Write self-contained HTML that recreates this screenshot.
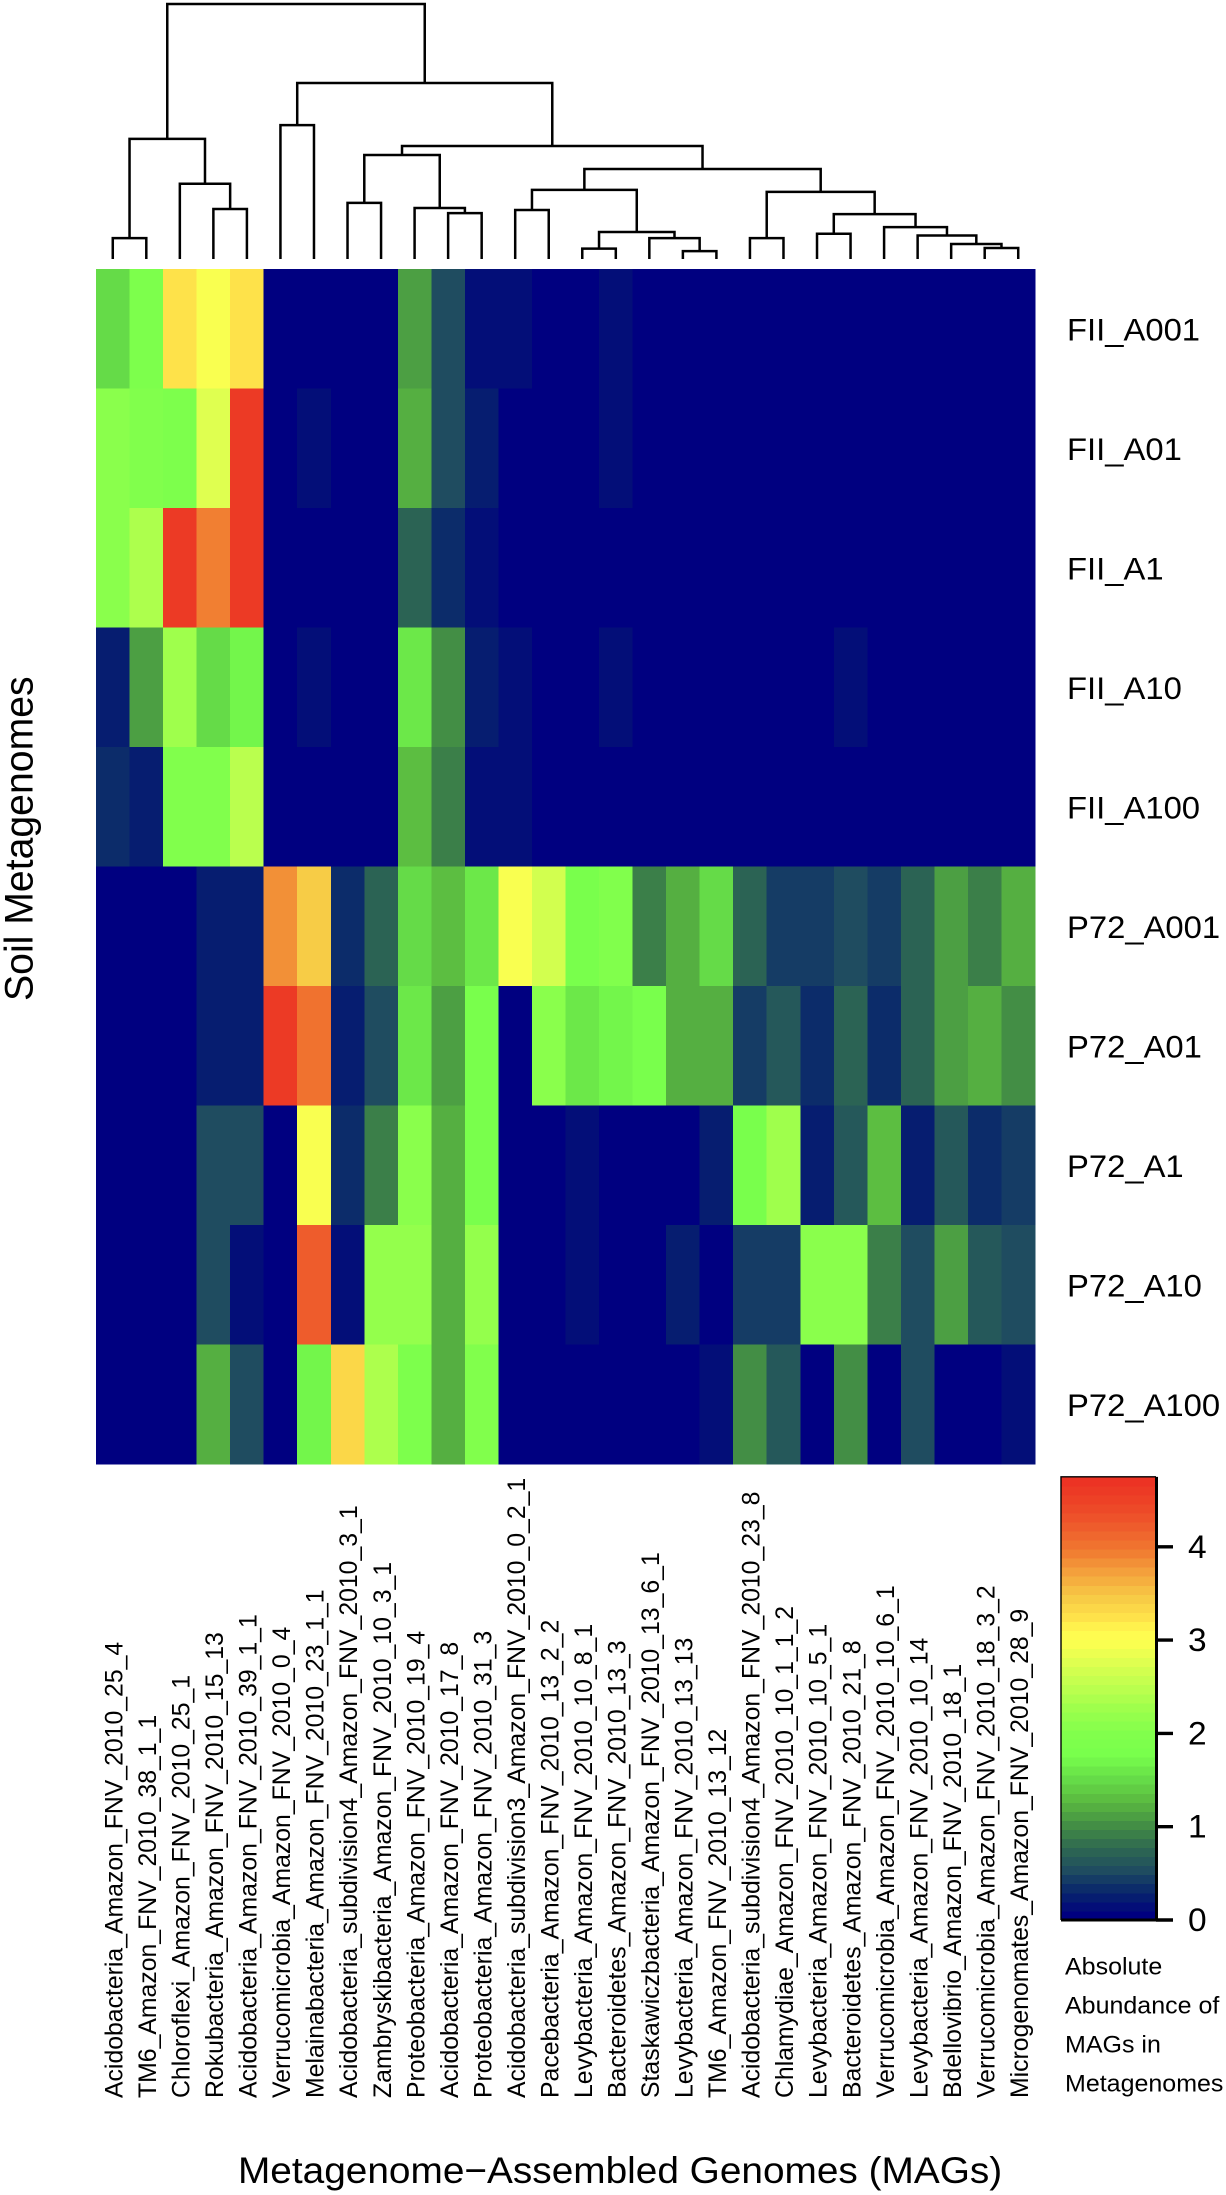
<!DOCTYPE html>
<html lang="en">
<head>
<meta charset="utf-8">
<title>MAG abundance heatmap</title>
<style>
html,body{margin:0;padding:0;background:#fff;}
svg{display:block;}
text{font-family:"Liberation Sans",sans-serif;fill:#000;}
</style>
</head>
<body>
<svg id="figure" xmlns="http://www.w3.org/2000/svg" width="1226" height="2195" viewBox="0 0 1226 2195">
  <g id="dendrogram"></g>
  <g id="cells" shape-rendering="crispEdges"></g>
  <g id="rowLabels"></g>
  <g id="colLabels"></g>
  <g id="legend"></g>
  <g id="titles"></g>
</svg>
<script>
const columnNames = [
  "Acidobacteria_Amazon_FNV_2010_25_4","TM6_Amazon_FNV_2010_38_1_1","Chloroflexi_Amazon_FNV_2010_25_1",
  "Rokubacteria_Amazon_FNV_2010_15_13","Acidobacteria_Amazon_FNV_2010_39_1_1","Verrucomicrobia_Amazon_FNV_2010_0_4",
  "Melainabacteria_Amazon_FNV_2010_23_1_1","Acidobacteria_subdivision4_Amazon_FNV_2010_3_1","Zambryskibacteria_Amazon_FNV_2010_10_3_1",
  "Proteobacteria_Amazon_FNV_2010_19_4","Acidobacteria_Amazon_FNV_2010_17_8","Proteobacteria_Amazon_FNV_2010_31_3",
  "Acidobacteria_subdivision3_Amazon_FNV_2010_0_2_1","Pacebacteria_Amazon_FNV_2010_13_2_2","Levybacteria_Amazon_FNV_2010_10_8_1",
  "Bacteroidetes_Amazon_FNV_2010_13_3","Staskawiczbacteria_Amazon_FNV_2010_13_6_1","Levybacteria_Amazon_FNV_2010_13_13",
  "TM6_Amazon_FNV_2010_13_12","Acidobacteria_subdivision4_Amazon_FNV_2010_23_8","Chlamydiae_Amazon_FNV_2010_10_1_1_2",
  "Levybacteria_Amazon_FNV_2010_10_5_1","Bacteroidetes_Amazon_FNV_2010_21_8","Verrucomicrobia_Amazon_FNV_2010_10_6_1",
  "Levybacteria_Amazon_FNV_2010_10_14","Bdellovibrio_Amazon_FNV_2010_18_1","Verrucomicrobia_Amazon_FNV_2010_18_3_2",
  "Microgenomates_Amazon_FNV_2010_28_9"
];
const rowNames = ["FII_A001","FII_A01","FII_A1","FII_A10","FII_A100","P72_A001","P72_A01","P72_A1","P72_A10","P72_A100"];

const rowFII_A001 = [1.45,1.85,3.28,2.95,3.28,0,0,0,0,1.05,.5,.12,.12,0,0,.1,0,0,0,0,0,0,0,0,0,0,0,0];
const rowFII_A01  = [2.05,1.95,1.9,2.8,4.7,0,.1,0,0,1.15,.5,.22,0,0,0,.1,0,0,0,0,0,0,0,0,0,0,0,0];
const rowFII_A1   = [2.1,2.4,4.7,3.95,4.7,0,0,0,0,.65,.3,.12,0,0,0,0,0,0,0,0,0,0,0,0,0,0,0,0];
const rowFII_A10  = [.2,1.05,2.3,1.45,1.65,0,.1,0,0,1.55,.95,.22,.13,0,0,.1,0,0,0,0,0,0,.1,0,0,0,0,0];
const rowFII_A100 = [.3,.2,2,2,2.5,0,0,0,0,1.3,.85,.12,.12,0,0,0,0,0,0,0,0,0,0,0,0,0,0,0];
const rowP72_A001 = [0,0,0,.22,.22,3.85,3.5,.3,.65,1.45,1.3,1.55,3,2.7,1.8,1.95,.85,1.22,1.45,.72,.42,.42,.5,.42,.72,1.05,.85,1.22];
const rowP72_A01  = [0,0,0,.22,.22,4.7,4.05,.15,.5,1.55,1.1,1.8,0,2.1,1.55,1.65,1.8,1.15,1.15,.42,.62,.27,.72,.27,.72,1.05,1.15,1];
const rowP72_A1   = [0,0,0,.5,.5,0,3,.3,.85,2.05,1.22,1.8,0,0,.1,0,0,0,.22,1.8,2.25,.15,.62,1.3,.18,.62,.27,.42];
const rowP72_A10  = [0,0,0,.5,.08,0,4.25,.1,2.15,2.15,1.22,2.2,0,0,.1,0,0,.18,0,.42,.42,2.05,2.05,.85,.5,1.05,.62,.5];
const rowP72_A100 = [0,0,0,1.15,.5,0,1.65,3.4,2.4,1.85,1.15,1.95,0,0,0,0,0,0,.12,1,.62,0,.95,0,.5,0,0,.12];
const allRows = [rowFII_A001,rowFII_A01,rowFII_A1,rowFII_A10,rowFII_A100,rowP72_A001,rowP72_A01,rowP72_A1,rowP72_A10,rowP72_A100];

/* hclust-style merges: positive = leaf number, negative = earlier merge number */
const mergeLeft   = [1,4,3,-1,6,8,11,10,-6,13,15,18,17,-11,-10,20,22,27,26,25,24,-17,-16,-15,-9,-5,-4];
const mergeRight  = [2,5,-2,-3,7,9,12,-7,-8,14,16,19,-12,-13,-14,21,23,28,-18,-19,-20,-21,-22,-23,-24,-25,-26];
const mergeHeight = [8.2,19.6,29.5,47.1,52.5,22,18,20,40.8,19.2,4.05,3.1,8.2,10.6,27.1,8.2,9.9,4.3,5.9,9.2,12.5,17.6,26.3,35.3,44.3,69,100];

const legendStopValues = [0,.25,.5,.75,1,1.25,1.5,1.75,2,2.25,2.5,2.75,3,3.1,3.25,3.5,3.75,4,4.25,4.5,4.75];
const legendStopColors = ["#000080","#08246c","#1f4d60","#2f6a50","#449044","#5ab940","#66dd48","#78ff4c","#82ff4c","#9cff4c","#bdff4e","#dcff50","#fdff50","#fffb50","#ffe44a","#f6c845","#f4a23c","#f07830","#ee5c2c","#ed4527","#ec3324"];
const legendTicks = [0,1,2,3,4];
const legendTitleLines = ["Absolute","Abundance of","MAGs in","Metagenomes"];
const legendMax = 4.75;
const legendBandCount = 49;

const SVGNS = "http://www.w3.org/2000/svg";
const xCol = i => 96 + i * (939 / columnNames.length);
const yRow = i => 269 + i * (1195 / rowNames.length);
const yHeight = h => 259 - h * 2.55;
const yLegend = v => 1920 - v * 93.3;

function hexToRgb(h){return [1,3,5].map(k=>parseInt(h.substr(k,2),16));}
function rampColor(v){
  let k = 0;
  while(k < legendStopValues.length-2 && v > legendStopValues[k+1]) k++;
  const t = Math.min(1,(v-legendStopValues[k])/(legendStopValues[k+1]-legendStopValues[k]));
  const a = hexToRgb(legendStopColors[k]), b = hexToRgb(legendStopColors[k+1]);
  return "rgb("+a.map((c,i)=>Math.round(c+(b[i]-c)*t)).join(",")+")";
}
function bandIndex(v){return Math.min(legendBandCount-1,Math.round(v/legendMax*(legendBandCount-1)));}
function bandColor(i){return rampColor(i/(legendBandCount-1)*legendMax);}

function makeText(str,x,y,along,cross,rot,parent,anchor){
  const t = document.createElementNS(SVGNS,"text");
  t.textContent = str;
  t.setAttribute("font-size","100");
  t.setAttribute("transform","translate("+x+" "+y+") rotate("+rot+") scale("+(along/100)+" "+(cross/100)+")");
  if(anchor) t.setAttribute("text-anchor",anchor);
  parent.appendChild(t);
  return t;
}

/* dendrogram */
const dendro = document.getElementById("dendrogram");
const mergePos = [];
function nodeX(id){return id>0 ? xCol(id-1)+ (939/columnNames.length)/2 : mergePos[-id-1].x;}
function nodeY(id){return id>0 ? yHeight(0) : mergePos[-id-1].y;}
mergeLeft.forEach((l,m)=>{
  const r = mergeRight[m];
  const y = yHeight(mergeHeight[m]);
  const xl = nodeX(l), xr = nodeX(r);
  const p = document.createElementNS(SVGNS,"path");
  p.setAttribute("d","M"+xl+" "+nodeY(l)+"V"+y+"H"+xr+"V"+nodeY(r));
  p.setAttribute("fill","none");
  p.setAttribute("stroke","#000");
  p.setAttribute("stroke-width","2.5");
  p.setAttribute("stroke-linejoin","miter");
  
  
  dendro.appendChild(p);
  mergePos.push({x:(xl+xr)/2,y:y});
});

/* heatmap cells */
const cells = document.getElementById("cells");
allRows.forEach((vals,r)=>{
  vals.forEach((v,c)=>{
    const rect = document.createElementNS(SVGNS,"rect");
    rect.setAttribute("x",xCol(c));
    rect.setAttribute("y",yRow(r));
    rect.setAttribute("width",xCol(c+1)-xCol(c)+0.5);
    rect.setAttribute("height",yRow(r+1)-yRow(r)+0.5);
    rect.setAttribute("fill",bandColor(bandIndex(v)));
    
    
    cells.appendChild(rect);
  });
});

/* row labels */
const rowG = document.getElementById("rowLabels");
rowNames.forEach((n,r)=>{
  const t = makeText(n,1067,yRow(r)+(1195/rowNames.length)/2+11.5,32.8,31.5,0,rowG);
  
  
});

/* column labels */
const colG = document.getElementById("colLabels");
columnNames.forEach((n,c)=>{
  const t = makeText(n,xCol(c)+(939/columnNames.length)/2+9.7,2098,24.8,25,-90,colG);
  
  
});

/* colour legend */
const legend = document.getElementById("legend");
for(let i=0;i<legendBandCount;i++){
  const v0 = i/legendBandCount*legendMax, v1 = (i+1)/legendBandCount*legendMax;
  const b = document.createElementNS(SVGNS,"rect");
  b.setAttribute("x",1061);
  b.setAttribute("y",yLegend(v1));
  b.setAttribute("width",95);
  b.setAttribute("height",yLegend(v0)-yLegend(v1)+0.4);
  b.setAttribute("fill",bandColor(i));
  b.setAttribute("shape-rendering","crispEdges");
  
  
  legend.appendChild(b);
}
const frame = document.createElementNS(SVGNS,"path");
frame.setAttribute("d","M1061 "+yLegend(0)+"V"+yLegend(legendMax)+"H1156");
frame.setAttribute("fill","none");
frame.setAttribute("stroke","#000");
frame.setAttribute("stroke-width","1.4");


legend.appendChild(frame);
const axisLine = document.createElementNS(SVGNS,"path");
axisLine.setAttribute("d","M1061 "+yLegend(0)+"H1156.5M1156.5 "+(yLegend(0)+1)+"V"+yLegend(legendMax));
axisLine.setAttribute("fill","none");
axisLine.setAttribute("stroke","#000");
axisLine.setAttribute("stroke-width","3");


legend.appendChild(axisLine);
legendTicks.forEach(v=>{
  const tick = document.createElementNS(SVGNS,"line");
  tick.setAttribute("x1",1156);
  tick.setAttribute("x2",1173);
  tick.setAttribute("y1",yLegend(v));
  tick.setAttribute("y2",yLegend(v));
  tick.setAttribute("stroke","#000");
  tick.setAttribute("stroke-width","3.4");
  
  
  legend.appendChild(tick);
  const lab = makeText(String(v),1188,yLegend(v)+11,33.5,32.5,0,legend);
  
  
});
legendTitleLines.forEach((line,i)=>{
  const t = makeText(line,1065,1974.5+i*39,25,24.5,0,legend);
  
  
});

/* axis titles */
const titles = document.getElementById("titles");
const xTitle = makeText("Metagenome\u2212Assembled Genomes (MAGs)",238,2183,38.8,37.5,0,titles);


const yTitle = makeText("Soil Metagenomes",32.5,1001,39.2,39.5,-90,titles);


</script>
</body>
</html>
